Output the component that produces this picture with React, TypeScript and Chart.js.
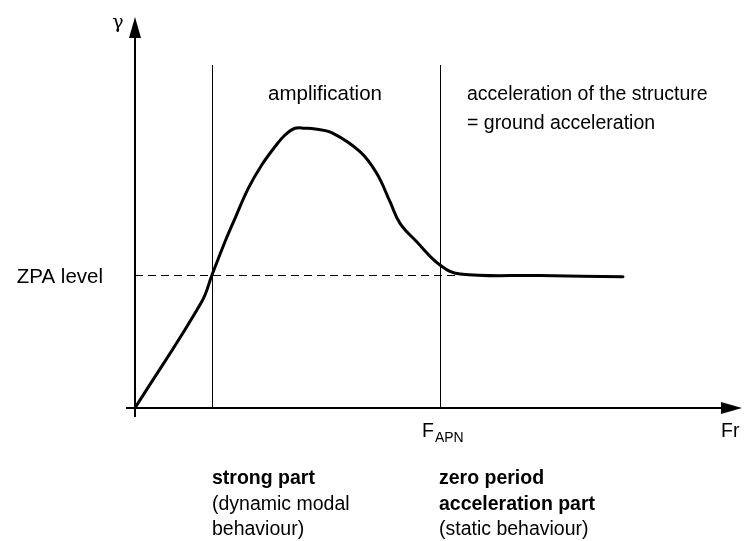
import { useEffect, useRef } from "react";
import { Chart, registerables } from "chart.js";

Chart.register(...registerables);

// Response curve (normalised frequency, normalised spectral acceleration γ)
const freq = [0, 1.112, 1.283, 1.5, 1.667, 1.888, 2.112, 2.333, 2.5, 2.667, 2.833, 3.0, 3.3, 3.75, 4.028, 4.25, 4.417, 4.695, 5.083, 5.417, 6.75, 8.133];
const gamma = [0, 2.74, 3.428, 4.286, 4.889, 5.662, 6.263, 6.735, 7.036, 7.209, 7.209, 7.191, 7.08, 6.606, 6.049, 5.317, 4.76, 4.286, 3.686, 3.454, 3.415, 3.384];

// Boundaries: end of strong part, F_APN
const boundaryFreqs = [1.283, 5.083];
const boundaryTop = [8.84];
const zpaLevel = [3.428];
const zpaEnd = [5.417];

const xAxisLabel = "Fr";
const yAxisLabel = "γ";
const zpaLabel = "ZPA level";
const fapnMain = "F";
const fapnSub = "APN";
const amplificationLabel = ["amplification"];
const rigidLabel = ["acceleration of the structure", "= ground acceleration"];
const strongBold = ["strong part"];
const strongNormal = ["(dynamic modal", "behaviour)"];
const zpaBold = ["zero period", "acceleration part"];
const zpaNormal = ["(static behaviour)"];

const SANS = "'Liberation Sans', Arial, Helvetica, sans-serif";
const SERIF = "'DejaVu Serif', 'Liberation Serif', serif";

const diagramPlugin = {
  id: "diagram",
  beforeDatasetsDraw(chart: any) {
    const { ctx, scales } = chart;
    const xs = scales.x;
    const ys = scales.y;
    ctx.save();
    ctx.strokeStyle = "#000";
    ctx.lineWidth = 1;
    boundaryFreqs.forEach((f) => {
      const px = Math.round(xs.getPixelForValue(f)) + 0.5;
      ctx.beginPath();
      ctx.moveTo(px, ys.getPixelForValue(boundaryTop[0]));
      ctx.lineTo(px, ys.getPixelForValue(0));
      ctx.stroke();
    });
    const zy = Math.round(ys.getPixelForValue(zpaLevel[0])) + 0.5;
    ctx.setLineDash([8, 5]);
    ctx.beginPath();
    ctx.moveTo(xs.getPixelForValue(0), zy);
    ctx.lineTo(xs.getPixelForValue(zpaEnd[0]), zy);
    ctx.stroke();
    ctx.setLineDash([]);
    ctx.restore();
  },
  afterDraw(chart: any) {
    const { ctx, scales } = chart;
    const xs = scales.x;
    const ys = scales.y;
    const x0 = xs.getPixelForValue(0);
    const y0 = ys.getPixelForValue(0);
    ctx.save();
    ctx.strokeStyle = "#000";
    ctx.fillStyle = "#000";
    ctx.lineWidth = 2;
    // x axis
    const xTip = xs.getPixelForValue(10.117);
    ctx.beginPath();
    ctx.moveTo(x0 - 9, y0);
    ctx.lineTo(xTip - 18, y0);
    ctx.stroke();
    ctx.beginPath();
    ctx.moveTo(xTip, y0);
    ctx.lineTo(xTip - 21, y0 - 6);
    ctx.lineTo(xTip - 21, y0 + 6);
    ctx.closePath();
    ctx.fill();
    // y axis
    const yTip = ys.getPixelForValue(10.08);
    ctx.beginPath();
    ctx.moveTo(x0, y0 + 9);
    ctx.lineTo(x0, yTip + 18);
    ctx.stroke();
    ctx.beginPath();
    ctx.moveTo(x0, yTip);
    ctx.lineTo(x0 - 6, yTip + 21);
    ctx.lineTo(x0 + 6, yTip + 21);
    ctx.closePath();
    ctx.fill();

    ctx.textBaseline = "alphabetic";
    ctx.font = `19px ${SERIF}`;
    ctx.textAlign = "center";
    ctx.fillText(yAxisLabel, x0 - 17, yTip + 11);

    ctx.font = `19.5px ${SANS}`;
    ctx.textAlign = "left";
    ctx.fillText(xAxisLabel, xTip - 21, y0 + 29);

    ctx.font = `20.5px ${SANS}`;
    ctx.textAlign = "right";
    ctx.fillText(zpaLabel, x0 - 32, ys.getPixelForValue(zpaLevel[0]) + 8);

    const fx = xs.getPixelForValue(boundaryFreqs[1]);
    ctx.font = `19.5px ${SANS}`;
    ctx.textAlign = "left";
    ctx.fillText(fapnMain, fx - 18, y0 + 29);
    const fw = ctx.measureText(fapnMain).width;
    ctx.font = `14px ${SANS}`;
    ctx.fillText(fapnSub, fx - 18 + fw + 1, y0 + 34);

    const b1 = xs.getPixelForValue(boundaryFreqs[0]);
    const b2 = xs.getPixelForValue(boundaryFreqs[1]);
    ctx.font = `20.5px ${SANS}`;
    ctx.textAlign = "center";
    amplificationLabel.forEach((t, i) => ctx.fillText(t, (b1 + b2) / 2 - 1, 100 + i * 28.5));
    ctx.font = `19.5px ${SANS}`;
    ctx.textAlign = "left";
    rigidLabel.forEach((t, i) => ctx.fillText(t, b2 + 27, 100 + i * 28.5));

    const drawBlock = (x: number, bold: string[], normal: string[]) => {
      let y = y0 + 76;
      ctx.font = `bold 19.5px ${SANS}`;
      bold.forEach((t) => {
        ctx.fillText(t, x, y);
        y += 25.5;
      });
      ctx.font = `19.5px ${SANS}`;
      normal.forEach((t) => {
        ctx.fillText(t, x, y);
        y += 25.5;
      });
    };
    drawBlock(b1, strongBold, strongNormal);
    drawBlock(b2 - 1, zpaBold, zpaNormal);
    ctx.restore();
  },
};

export default function App() {
  const ref = useRef<HTMLCanvasElement | null>(null);
  useEffect(() => {
    document.body.style.margin = "0";
    if (!ref.current) return;
    const chart = new Chart(ref.current, {
      type: "line",
      data: {
        datasets: [
          {
            data: freq.map((f, i) => ({ x: f, y: gamma[i] })),
            borderColor: "#000",
            borderWidth: 3,
            pointRadius: 0,
            fill: false,
            tension: 0.4,
            borderCapStyle: "round",
            borderJoinStyle: "round",
            clip: false as any,
          },
        ],
      },
      options: {
        responsive: false,
        animation: false,
        devicePixelRatio: 1,
        layout: { padding: { left: 135, right: 14, top: 20, bottom: 133 } },
        plugins: { legend: { display: false }, tooltip: { enabled: false } },
        events: [],
        scales: {
          x: { type: "linear", min: 0, max: 10, display: false },
          y: { type: "linear", min: 0, max: 10, display: false },
        },
      },
      plugins: [diagramPlugin],
    });
    return () => chart.destroy();
  }, []);
  return (
    <div style={{ width: 749, height: 541, background: "#fff" }}>
      <canvas ref={ref} width={749} height={541} />
    </div>
  );
}
